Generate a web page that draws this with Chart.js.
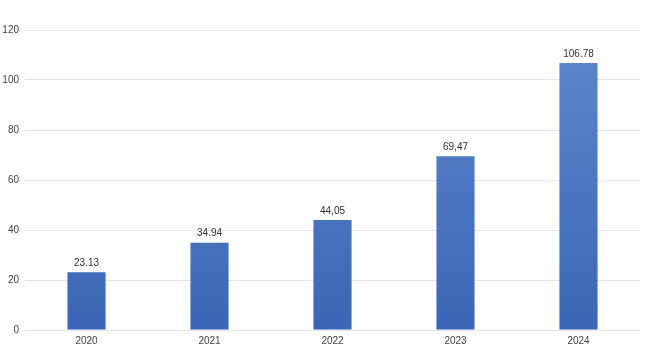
<!DOCTYPE html>
<html>
<head>
<meta charset="utf-8">
<script src="https://cdn.jsdelivr.net/npm/chart.js@4/dist/chart.umd.min.js"></script>
<style>
html,body{margin:0;padding:0;background:#fff;}
#wrap{width:648px;height:364px;}
</style>
</head>
<body>
<div id="wrap"><canvas id="c" width="648" height="364"></canvas></div>
<script>
const categories = ["2020","2021","2022","2023","2024"];
const values = [23.13, 34.94, 44.05, 69.47, 106.78];
const valueLabels = ["23.13","34.94","44,05","69,47","106.78"];
const yTicks = [0, 20, 40, 60, 80, 100, 120];

const labelPlugin = {
  id: 'valueLabels',
  afterDatasetsDraw(chart) {
    const ctx = chart.ctx;
    const meta = chart.getDatasetMeta(0);
    ctx.save();
    ctx.font = '10px "Liberation Sans", Arial, sans-serif';
    ctx.fillStyle = '#333';
    ctx.textAlign = 'center';
    ctx.textBaseline = 'bottom';
    meta.data.forEach((bar, i) => {
      ctx.fillText(valueLabels[i], bar.x, bar.y - 4);
    });
    ctx.restore();
  }
};

new Chart(document.getElementById('c'), {
  type: 'bar',
  data: {
    labels: categories,
    datasets: [{
      data: values,
      backgroundColor: (ctx) => {
        const chart = ctx.chart;
        const area = chart.chartArea;
        if (!area) return '#4472c4';
        const el = ctx.element;
        const g = chart.ctx.createLinearGradient(0, area.top, 0, area.bottom);
        g.addColorStop(0, '#5f88cc');
        g.addColorStop(1, '#3b66b5');
        return g;
      },
      borderWidth: 0,
      categoryPercentage: 1.0,
      barPercentage: 0.31
    }]
  },
  options: {
    responsive: false,
    animation: false,
    devicePixelRatio: 1,
    layout: { padding: { top: 30, right: 8, left: 0, bottom: 0 } },
    plugins: { legend: { display: false }, tooltip: { enabled: false } },
    scales: {
      x: {
        grid: { display: false, drawTicks: false },
        border: { display: false },
        ticks: { color: '#444', font: { size: 10, family: '"Liberation Sans", Arial, sans-serif' }, padding: 5 },
        afterFit(s) { s.height = 34; }
      },
      y: {
        min: 0, max: 120,
        afterBuildTicks(s) { s.ticks = yTicks.map(v => ({ value: v })); },
        grid: { color: '#e4e4e4', drawTicks: false, lineWidth: 1 },
        border: { display: false },
        ticks: { color: '#444', font: { size: 10, family: '"Liberation Sans", Arial, sans-serif' }, padding: 6 },
        afterFit(s) { s.width = 25; }
      }
    }
  },
  plugins: [labelPlugin]
});
</script>
</body>
</html>
